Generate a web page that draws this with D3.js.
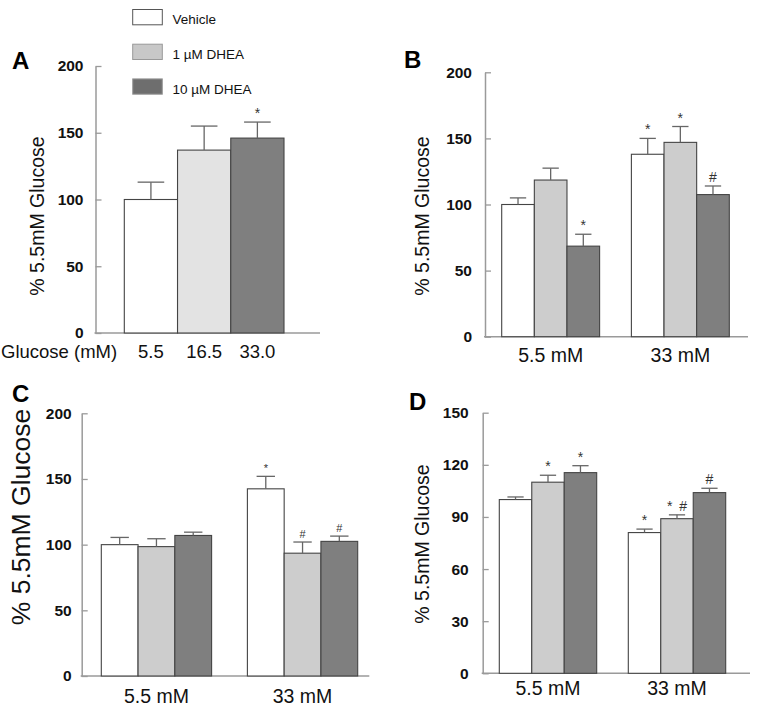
<!DOCTYPE html>
<html>
<head>
<meta charset="utf-8">
<script src="https://cdn.jsdelivr.net/npm/d3@7/dist/d3.min.js"></script>
<style>
  html, body { margin: 0; padding: 0; background: #fff; }
  svg { display: block; font-family: "Liberation Sans", Arial, Helvetica, sans-serif; }
</style>
</head>
<body>
<script>
// ---------------- DATA ----------------
const seriesNames = ["Vehicle", "1 \u00b5M DHEA", "10 \u00b5M DHEA"];
const legendColors = ["#ffffff", "#c8c8c8", "#6e6e6e"];
const colorsA = ["#ffffff", "#e3e3e3", "#7f7f7f"];
const colorsBCD = ["#ffffff", "#cdcdcd", "#7f7f7f"];

// Panel A
const categoriesA = ["5.5", "16.5", "33.0"];
const valuesA = [100, 137, 146];
const errorsA = [13, 18, 12];
const annotA = ["", "", "*"];
const ticksA = [0, 50, 100, 150, 200];

const groups = ["5.5 mM", "33 mM"];

// Panel B
const vehicleB = [100, 138];
const dhea1B = [118.5, 147];
const dhea10B = [68.5, 107.5];
const errVehicleB = [5, 12];
const errDhea1B = [9, 12];
const errDhea10B = [9, 6.5];
const annVehicleB = ["", "*"];
const annDhea1B = ["", "*"];
const annDhea10B = ["*", "#"];
const ticksB = [0, 50, 100, 150, 200];

// Panel C
const vehicleC = [100, 142.5];
const dhea1C = [98.5, 93.5];
const dhea10C = [107, 102.5];
const errVehicleC = [5.5, 9.5];
const errDhea1C = [6, 8.5];
const errDhea10C = [2.5, 4];
const annVehicleC = ["", "*"];
const annDhea1C = ["", "#"];
const annDhea10C = ["", "#"];
const ticksC = [0, 50, 100, 150, 200];

// Panel D
const vehicleD = [100, 81];
const dhea1D = [110, 89];
const dhea10D = [115.5, 104];
const errVehicleD = [1.5, 2];
const errDhea1D = [4, 2.2];
const errDhea10D = [4, 2.5];
const annVehicleD = ["", "*"];
const annDhea1D = ["*", "*\u2002#"];
const annDhea10D = ["*", "#"];
const ticksD = [0, 30, 60, 90, 120, 150];

const yTitle = "% 5.5mM Glucose";

// ---------------- DRAW ----------------
const svg = d3.select("body").append("svg").attr("width", 760).attr("height", 710);

const AXIS_COLOR = "#9a9a9a";
const BAR_STROKE = "#444";
const ERR_COLOR = "#666";

function drawAxes(p, y) {
  const g = svg.append("g").attr("transform", `translate(${p.x0},0)`);
  g.call(d3.axisLeft(y).tickValues(p.ticks).tickSizeInner(-6).tickSizeOuter(0).tickPadding(p.tickPad));
  g.select(".domain").attr("stroke", AXIS_COLOR).attr("stroke-width", 1.5);
  g.selectAll(".tick line").attr("stroke", AXIS_COLOR).attr("stroke-width", 1.3);
  g.selectAll(".tick text")
    .attr("font-family", "Liberation Sans, Arial, sans-serif")
    .attr("font-size", 15.5).attr("font-weight", "bold").attr("fill", "#111");
  // x axis line
  svg.append("line")
    .attr("x1", p.x0 - 1).attr("x2", p.x1)
    .attr("y1", y(0)).attr("y2", y(0))
    .attr("stroke", AXIS_COLOR).attr("stroke-width", 1.5);
  // letter
  svg.append("text").attr("x", p.letterX).attr("y", p.letterY)
    .attr("font-size", 24).attr("font-weight", "bold").attr("fill", "#000").text(p.letter);
  // y title
  svg.append("text")
    .attr("transform", `translate(${p.titleX},${p.titleY}) rotate(-90)`)
    .attr("text-anchor", "middle").attr("dy", "0.36em")
    .attr("font-size", p.titleSize).attr("fill", "#111").text(yTitle);
}

function drawBars(bars, y, annSize) {
  const g = svg.append("g");
  g.selectAll("rect").data(bars).join("rect")
    .attr("x", d => d.x).attr("y", d => y(d.v))
    .attr("width", d => d.w).attr("height", d => y(0) - y(d.v))
    .attr("fill", d => d.color).attr("stroke", BAR_STROKE).attr("stroke-width", 1.1);
  g.selectAll("line.err").data(bars).join("line").attr("class", "err")
    .attr("x1", d => d.x + d.w / 2).attr("x2", d => d.x + d.w / 2)
    .attr("y1", d => y(d.v)).attr("y2", d => y(d.v + d.e))
    .attr("stroke", ERR_COLOR).attr("stroke-width", 1.3);
  g.selectAll("line.cap").data(bars).join("line").attr("class", "cap")
    .attr("x1", d => d.x + d.w / 4).attr("x2", d => d.x + 3 * d.w / 4)
    .attr("y1", d => y(d.v + d.e)).attr("y2", d => y(d.v + d.e))
    .attr("stroke", ERR_COLOR).attr("stroke-width", 1.3);
  g.selectAll("text.ann").data(bars.filter(d => d.ann)).join("text").attr("class", "ann")
    .attr("x", d => d.x + d.w / 2).attr("y", d => y(d.v + d.e) - 4)
    .attr("text-anchor", "middle").attr("font-size", annSize).attr("fill", "#333")
    .text(d => d.ann);
}

// ---- Panel A ----
(function () {
  const p = { x0: 95.5, x1: 320, letter: "A", letterX: 12, letterY: 69,
    titleX: 37, titleY: 216, titleSize: 19.5, tickPad: 12, ticks: ticksA };
  const y = d3.scaleLinear().domain([0, 200]).range([333, 66]);
  const x = d3.scaleBand().domain(categoriesA).range([124.3, 284]).padding(0);
  drawAxes(p, y);
  const bars = categoriesA.map((c, i) => ({
    x: x(c), w: x.bandwidth(), v: valuesA[i], e: errorsA[i], ann: annotA[i], color: colorsA[i]
  }));
  drawBars(bars, y, 14);
  const ax = svg.append("g").attr("transform", `translate(0,${y(0)})`)
    .call(d3.axisBottom(x).tickSize(0).tickPadding(12));
  ax.select(".domain").remove();
  ax.selectAll("text").attr("font-family", "Liberation Sans, Arial, sans-serif")
    .attr("font-size", 18.5).attr("fill", "#111");
  svg.append("text").attr("x", 1).attr("y", 358).attr("font-size", 18.5).attr("fill", "#111")
    .text("Glucose (mM)");
  // legend
  const lg = svg.append("g");
  seriesNames.forEach((n, i) => {
    const yy = 9.5 + i * 34.7;
    lg.append("rect").attr("x", 132.7).attr("y", yy).attr("width", 29.6).attr("height", 15.3)
      .attr("fill", legendColors[i]).attr("stroke", i === 0 ? "#555" : "#999").attr("stroke-width", 1);
    lg.append("text").attr("x", 172.5).attr("y", yy + 14.6).attr("font-size", 13.5).attr("fill", "#111").text(n);
  });
})();

function groupedPanel(p, seriesVals, seriesErr, seriesAnn) {
  const y = d3.scaleLinear().domain([0, p.max]).range([p.yBottom, p.yTop]);
  const gx = d3.scaleBand().domain(groups).range(p.groupRange).paddingInner(0.245).paddingOuter(0);
  const sx = d3.scaleBand().domain(seriesNames).range([0, gx.bandwidth()]).padding(0);
  drawAxes(p, y);
  const bars = [];
  groups.forEach((gname, gi) => {
    seriesNames.forEach((s, si) => {
      bars.push({ x: gx(gname) + sx(s), w: sx.bandwidth(), v: seriesVals[si][gi],
        e: seriesErr[si][gi], ann: seriesAnn[si][gi], color: colorsBCD[si] });
    });
  });
  drawBars(bars, y, p.annSize);
  const ax = svg.append("g").attr("transform", `translate(0,${y(0)})`)
    .call(d3.axisBottom(gx).tickSize(0).tickPadding(p.labelPad));
  ax.select(".domain").remove();
  ax.selectAll("text").attr("font-family", "Liberation Sans, Arial, sans-serif")
    .attr("font-size", 19.5).attr("fill", "#111");
}

// ---- Panel B ----
groupedPanel({ x0: 485, x1: 748, yTop: 72.3, yBottom: 336.7, max: 200, ticks: ticksB,
  groupRange: [501.7, 729.3], letter: "B", letterX: 404, letterY: 68,
  titleX: 421.7, titleY: 216, titleSize: 19.5, tickPad: 13, labelPad: 11, annSize: 14 },
  [vehicleB, dhea1B, dhea10B], [errVehicleB, errDhea1B, errDhea10B], [annVehicleB, annDhea1B, annDhea10B]);

// ---- Panel C ----
groupedPanel({ x0: 81.7, x1: 369.3, yTop: 413.3, yBottom: 676, max: 200, ticks: ticksC,
  groupRange: [101.3, 357.7], letter: "C", letterX: 12, letterY: 402,
  titleX: 20, titleY: 517, titleSize: 26.5, tickPad: 10, labelPad: 13, annSize: 11 },
  [vehicleC, dhea1C, dhea10C], [errVehicleC, errDhea1C, errDhea10C], [annVehicleC, annDhea1C, annDhea10C]);

// ---- Panel D ----
groupedPanel({ x0: 482.7, x1: 750, yTop: 412.7, yBottom: 673.3, max: 150, ticks: ticksD,
  groupRange: [499.3, 725.7], letter: "D", letterX: 409, letterY: 410,
  titleX: 421.7, titleY: 544, titleSize: 19.5, tickPad: 14, labelPad: 8, annSize: 14 },
  [vehicleD, dhea1D, dhea10D], [errVehicleD, errDhea1D, errDhea10D], [annVehicleD, annDhea1D, annDhea10D]);
</script>
</body>
</html>
